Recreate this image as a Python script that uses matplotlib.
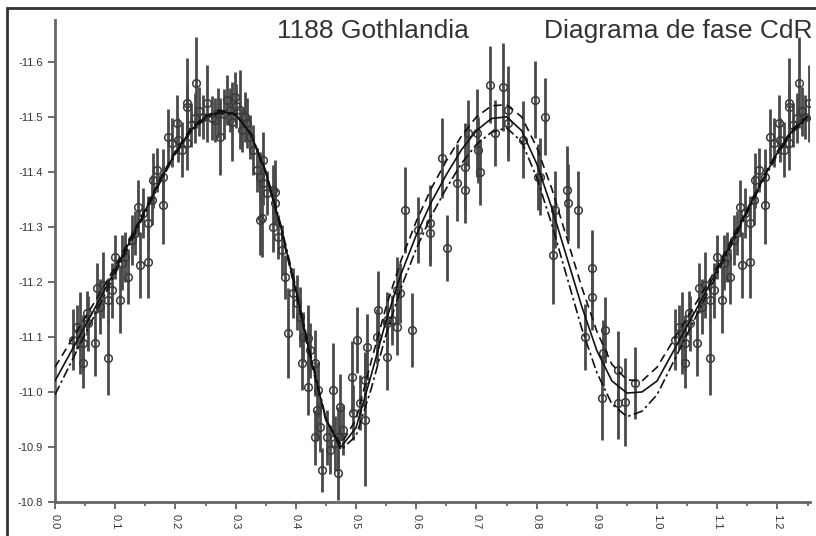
#!/usr/bin/env python3
import matplotlib

matplotlib.use("Agg")
import matplotlib.pyplot as plt
import numpy as np
from matplotlib.patches import Rectangle
from matplotlib.ticker import MultipleLocator

plt.rcParams["font.family"] = ["Liberation Sans", "DejaVu Sans"]

# observations (one rotation, phase 0..1), repeated past 1.0 as in the original
obs_phase = [
    0.030, 0.036, 0.042, 0.047, 0.047, 0.053, 0.055, 0.066, 0.070, 0.075,
    0.080, 0.088, 0.088, 0.094, 0.100, 0.108, 0.111, 0.116, 0.121, 0.128,
    0.133, 0.138, 0.141, 0.146, 0.154, 0.154, 0.161, 0.163, 0.169, 0.179,
    0.179, 0.188, 0.194, 0.202, 0.204, 0.211, 0.219, 0.219, 0.219, 0.235,
    0.232, 0.246, 0.252, 0.260, 0.271, 0.274, 0.285, 0.291, 0.294, 0.299,
    0.307, 0.310, 0.319, 0.324, 0.329, 0.335, 0.340, 0.340, 0.346, 0.352,
    0.365, 0.362, 0.346, 0.344, 0.362, 0.365, 0.370, 0.377, 0.382, 0.387,
    0.396, 0.402, 0.407, 0.410, 0.412, 0.420, 0.424, 0.420, 0.432, 0.437,
    0.435, 0.432, 0.440, 0.443, 0.451, 0.457, 0.462, 0.465, 0.470, 0.470,
    0.473, 0.478, 0.493, 0.495, 0.502, 0.507, 0.515, 0.515, 0.518, 0.535,
    0.537, 0.551, 0.551, 0.560, 0.568, 0.551, 0.568, 0.573, 0.593, 0.581,
    0.603, 0.623, 0.623, 0.651, 0.643, 0.668, 0.681, 0.681, 0.686, 0.701,
    0.703, 0.706, 0.723, 0.731, 0.744, 0.752, 0.752, 0.777, 0.797, 0.806,
    0.814, 0.802, 0.831, 0.827, 0.850, 0.852, 0.869, 0.892, 0.892, 0.880,
    0.914, 0.910, 0.909, 0.935, 0.935, 0.947, 0.963, 0.226, 0.240, 0.265,
    0.280, 0.300, 0.315,
]
obs_mag = [
    -11.095, -11.118, -11.107, -11.089, -11.053, -11.144, -11.125, -11.089, -11.189, -11.155,
    -11.195, -11.062, -11.167, -11.185, -11.245, -11.167, -11.235, -11.245, -11.209, -11.276,
    -11.289, -11.336, -11.231, -11.325, -11.307, -11.236, -11.349, -11.385, -11.404, -11.391,
    -11.340, -11.464, -11.453, -11.489, -11.458, -11.440, -11.518, -11.525, -11.453, -11.562,
    -11.498, -11.500, -11.525, -11.498, -11.507, -11.464, -11.531, -11.513, -11.491, -11.536,
    -11.513, -11.476, -11.489, -11.464, -11.440, -11.404, -11.391, -11.313, -11.380, -11.362,
    -11.364, -11.300, -11.422, -11.316, -11.367, -11.344, -11.282, -11.258, -11.209, -11.107,
    -11.180, -11.162, -11.136, -11.053, -11.100, -11.098, -11.076, -11.009, -11.053, -11.004,
    -10.967, -10.918, -10.936, -10.858, -10.918, -10.895, -11.004, -10.907, -10.853, -10.918,
    -10.973, -10.931, -11.027, -10.962, -11.095, -10.980, -10.949, -11.022, -11.082, -11.100,
    -11.149, -11.131, -11.064, -11.131, -11.185, -11.125, -11.118, -11.180, -11.113, -11.331,
    -11.295, -11.307, -11.289, -11.262, -11.425, -11.380, -11.367, -11.409, -11.471, -11.471,
    -11.440, -11.400, -11.558, -11.471, -11.555, -11.513, -11.489, -11.458, -11.531, -11.391,
    -11.500, -11.391, -11.331, -11.249, -11.367, -11.344, -11.331, -11.225, -11.173, -11.100,
    -11.113, -11.071, -10.989, -11.040, -10.980, -10.982, -11.016, -11.485, -11.510, -11.495,
    -11.505, -11.520, -11.500,
]
obs_err = [
    0.055, 0.040, 0.075, 0.050, 0.045, 0.040, 0.050, 0.060, 0.045, 0.050,
    0.060, 0.068, 0.040, 0.050, 0.040, 0.060, 0.050, 0.045, 0.050, 0.045,
    0.040, 0.050, 0.060, 0.045, 0.050, 0.065, 0.045, 0.050, 0.040, 0.050,
    0.072, 0.050, 0.045, 0.050, 0.040, 0.050, 0.040, 0.082, 0.050, 0.083,
    0.045, 0.040, 0.070, 0.040, 0.045, 0.070, 0.045, 0.040, 0.072, 0.045,
    0.072, 0.040, 0.045, 0.040, 0.045, 0.040, 0.045, 0.065, 0.040, 0.040,
    0.058, 0.045, 0.050, 0.070, 0.045, 0.040, 0.040, 0.045, 0.040, 0.082,
    0.045, 0.050, 0.055, 0.050, 0.045, 0.060, 0.050, 0.050, 0.060, 0.050,
    0.055, 0.050, 0.045, 0.040, 0.050, 0.045, 0.085, 0.050, 0.050, 0.055,
    0.060, 0.045, 0.065, 0.050, 0.060, 0.050, 0.120, 0.050, 0.060, 0.050,
    0.070, 0.050, 0.060, 0.045, 0.060, 0.050, 0.050, 0.055, 0.067, 0.078,
    0.060, 0.070, 0.060, 0.060, 0.073, 0.070, 0.060, 0.080, 0.060, 0.080,
    0.060, 0.060, 0.070, 0.060, 0.080, 0.080, 0.070, 0.070, 0.070, 0.070,
    0.070, 0.060, 0.070, 0.090, 0.080, 0.070, 0.070, 0.070, 0.060, 0.060,
    0.060, 0.060, 0.076, 0.070, 0.065, 0.080, 0.065, 0.040, 0.045, 0.040,
    0.045, 0.040, 0.045,
]

# Fourier fits (solid, dashed, dash-dot)
fit_phase = [
    0.000, 0.025, 0.050, 0.075, 0.100, 0.125, 0.150, 0.175, 0.200, 0.225,
    0.250, 0.275, 0.300, 0.325, 0.350, 0.375, 0.400, 0.425, 0.450, 0.475,
    0.500, 0.525, 0.550, 0.575, 0.600, 0.625, 0.650, 0.675, 0.700, 0.725,
    0.750, 0.775, 0.800, 0.825, 0.850, 0.875, 0.900, 0.925, 0.950, 0.975,
    1.000,
]
fit_solid = [
    -11.020, -11.070, -11.120, -11.170, -11.222, -11.275, -11.330, -11.385, -11.435, -11.475,
    -11.500, -11.510, -11.505, -11.470, -11.400, -11.300, -11.185, -11.060, -10.950, -10.900,
    -10.935, -11.030, -11.130, -11.215, -11.285, -11.345, -11.395, -11.440, -11.475, -11.497,
    -11.500, -11.475, -11.415, -11.335, -11.245, -11.155, -11.075, -11.020, -10.998, -11.000,
    -11.020,
]
fit_dashed = [
    -11.045, -11.090, -11.135, -11.180, -11.228, -11.280, -11.333, -11.388, -11.438, -11.478,
    -11.502, -11.512, -11.505, -11.468, -11.398, -11.296, -11.180, -11.055, -10.948, -10.905,
    -10.950, -11.055, -11.155, -11.240, -11.310, -11.370, -11.420, -11.465, -11.500, -11.520,
    -11.522, -11.500, -11.445, -11.370, -11.280, -11.190, -11.110, -11.050, -11.022, -11.020,
    -11.045,
]
fit_dashdot = [
    -10.995, -11.050, -11.105, -11.160, -11.215, -11.270, -11.326, -11.382, -11.432, -11.472,
    -11.497, -11.507, -11.503, -11.470, -11.402, -11.304, -11.190, -11.066, -10.952, -10.895,
    -10.920, -11.005, -11.105, -11.190, -11.260, -11.320, -11.370, -11.415, -11.450, -11.472,
    -11.480, -11.455, -11.390, -11.305, -11.210, -11.115, -11.035, -10.978, -10.955, -10.965,
    -10.995,
]

x_ticks = [round(0.1 * i, 1) for i in range(13)]
y_ticks = [-11.6, -11.5, -11.4, -11.3, -11.2, -11.1, -11.0, -10.9, -10.8]

X_MAX = 1.254
Y_TOP = -11.676
Y_BOTTOM = -10.8


def wrap(phase, values, limit):
    # phase diagram repeats the start of the rotation after phase 1.0
    p = np.asarray(phase)
    v = np.asarray(values)
    extra = (p + 1.0 <= limit) & (p > 0.0)
    return np.concatenate([p, p[extra] + 1.0]), np.concatenate([v, v[extra]])


def main() -> None:
    fig = plt.figure(figsize=(8.16, 5.36), dpi=100)
    fig.patches.append(
        Rectangle((7 / 816, -0.05), 1.1, 1.05 - 8 / 536, transform=fig.transFigure,
                  fill=False, edgecolor="#333333", linewidth=2.0)
    )
    ax = fig.add_axes([55 / 816, 34 / 536, 755 / 816, 482 / 536])

    for vals, ls in ((fit_dashed, (0, (5, 3))), (fit_dashdot, (0, (6, 2, 1.5, 2))), (fit_solid, "-")):
        px, py = wrap(fit_phase, vals, 1.25)
        ax.plot(px, py, color="#111111", linestyle=ls, linewidth=1.2, zorder=3)

    px, py = wrap(obs_phase, obs_mag, 1.26)
    _, pe = wrap(obs_phase, obs_err, 1.26)
    ax.errorbar(px, py, yerr=pe, fmt="o", markersize=5.5, markerfacecolor="none",
                markeredgecolor="#3a3a3a", markeredgewidth=1.1, ecolor="#4a4a4a",
                elinewidth=2.0, capsize=0, zorder=2)

    ax.set_xlim(0, X_MAX)
    ax.set_ylim(Y_BOTTOM, Y_TOP)
    ax.set_xticks(x_ticks)
    ax.set_xticklabels([f"{t:.1f}" for t in x_ticks], rotation=-90, fontsize=8, color="#333333")
    ax.xaxis.set_minor_locator(MultipleLocator(0.05))
    ax.set_yticks(y_ticks)
    ax.set_yticklabels([f"{t:.1f}" for t in y_ticks], fontsize=8, color="#333333")
    ax.tick_params(axis="both", which="major", length=5, width=1.2, color="#555555")
    ax.tick_params(axis="x", which="minor", length=3, width=1.2, color="#555555")

    for side in ("top", "right"):
        ax.spines[side].set_visible(False)
    for side in ("left", "bottom"):
        ax.spines[side].set_color("#666666")
        ax.spines[side].set_linewidth(2.0)

    fig.text(277 / 816, 1 - 31 / 536, "1188 Gothlandia", fontsize=19,
             color="#333333", ha="left", va="center")
    fig.text(812 / 816, 1 - 31 / 536, "Diagrama de fase CdR", fontsize=19,
             color="#333333", ha="right", va="center")

    fig.savefig("out.png", dpi=100)
    plt.close(fig)


if __name__ == "__main__":
    main()
